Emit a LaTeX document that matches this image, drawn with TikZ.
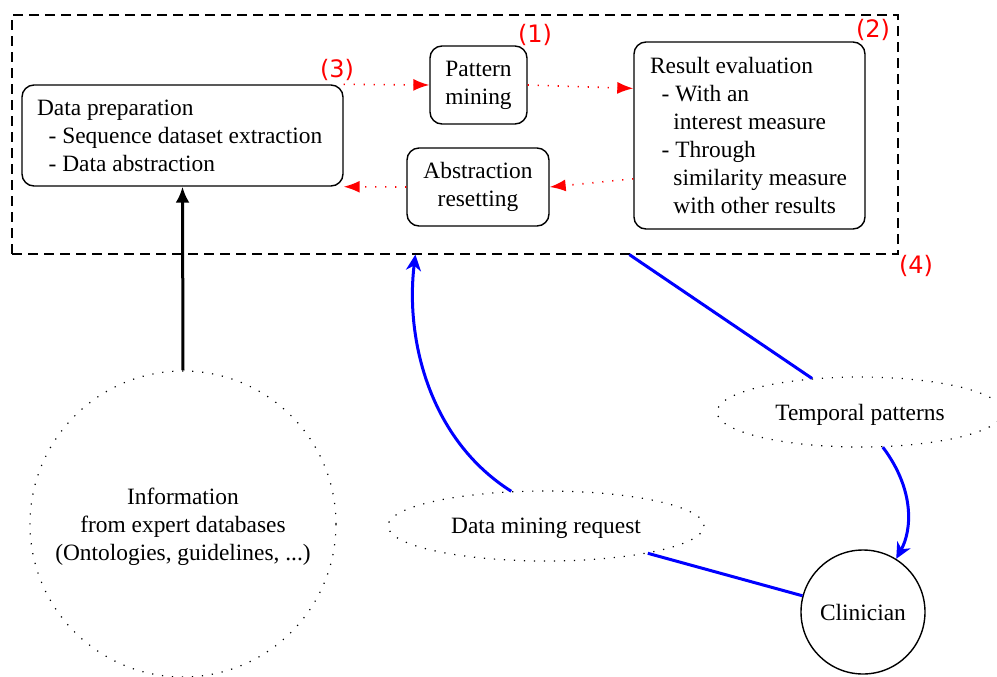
\documentclass[tikz,border=0pt]{standalone}
\usepackage{fontspec}
\setmainfont{Liberation Serif}
\newfontfamily\labfont{DejaVu Sans}
\usetikzlibrary{arrows.meta,calc,shapes.geometric}
\begin{document}
\begin{tikzpicture}[x=0.5pt,y=-0.5pt,
  every node/.style={font=\rmfamily\fontsize{11.7}{14}\selectfont},
  box/.style={draw,rounded corners=6pt,line width=0.7pt,inner sep=0pt,align=center},
  lab/.style={text=red,font=\labfont\fontsize{12}{14}\selectfont,inner sep=0pt},
  reddot/.style={red,line width=0.8pt,dash pattern=on 0.6pt off 4.4pt,-{Latex[length=8pt,width=6pt]}},
  blueline/.style={blue,line width=1.5pt},
  bluearr/.style={blue,line width=1.5pt,-{Stealth[length=8pt,width=7.5pt,inset=2.5pt]}},
  dotline/.style={draw,line width=0.6pt,dash pattern=on 0.6pt off 4.4pt,inner sep=0pt}]
\useasboundingbox (0,0) rectangle (997,676);

\node[draw,dash pattern=on 5pt off 3pt,line width=0.6pt,minimum width=443pt,minimum height=119.5pt,inner sep=0pt] (frame) at (455,134.5) {};

\node[box,minimum width=160.5pt,minimum height=50.5pt,text width=145.5pt,align=flush left] (dp) at (182.5,135.5)
  {Data preparation\\\hspace*{0.5em}- Sequence dataset extraction\\\hspace*{0.5em}- Data abstraction};
\node[box,minimum width=48.5pt,minimum height=39pt] (pm) at (478.5,85) {Pattern\\mining};
\node[box,minimum width=71pt,minimum height=39pt] (ar) at (478,187) {Abstraction\\resetting};
\node[box,minimum width=115.5pt,minimum height=93.5pt,text width=99.5pt,align=flush left] (re) at (749.5,135.5)
  {Result evaluation\\\hspace*{0.5em}- With an\\\hspace*{1.0em}interest measure\\\hspace*{0.5em}- Through\\\hspace*{1.0em}similarity measure\\\hspace*{1.0em}with other results};

\node[lab] (l1) at (535,35) {(1)};
\node[lab] (l2) at (873,30) {(2)};
\node[lab] (l3) at (337,70) {(3)};
\node[lab] (l4) at (916,266) {(4)};

\node[dotline,circle,minimum size=153pt,align=center,text depth=0pt] (info) at (183,524)
  {Information\\from expert databases\\(Ontologies, guidelines, ...)};
\node[dotline,ellipse,minimum width=158pt,minimum height=35pt,text depth=0pt] (dmr) at (546,526) {Data mining request};
\node[dotline,ellipse,minimum width=143pt,minimum height=35pt,text depth=0pt] (tp) at (860,412) {Temporal patterns};
\node[draw,circle,line width=0.7pt,minimum size=62pt,inner sep=0pt] (cl) at (863,612) {Clinician};

\coordinate (fb1) at ($(frame.south west)+(404,0)$);
\coordinate (fb2) at ($(frame.south west)+(618,0)$);

\draw[reddot] (dp.north east) -- (pm.west);
\draw[reddot] (pm.east) -- ($(re.north west)!0.25!(re.south west)$);
\draw[reddot] ($(re.north west)!0.73!(re.south west)$) -- (ar.east);
\draw[reddot] (ar.west) -- (dp.south east);

\draw[line width=1.5pt,-{Latex[length=8pt,width=7pt]}] (info.north) -- (dp.south);

\draw[bluearr] (dmr.135) .. controls (430,440) and (405,340) .. (fb1);
\draw[blueline] (fb2) -- (tp.145);
\draw[bluearr] (tp.-57) .. controls (915,490) and (912,530) .. (cl.58);
\draw[blueline] (dmr.-15) -- (cl.165);
\end{tikzpicture}
\end{document}
